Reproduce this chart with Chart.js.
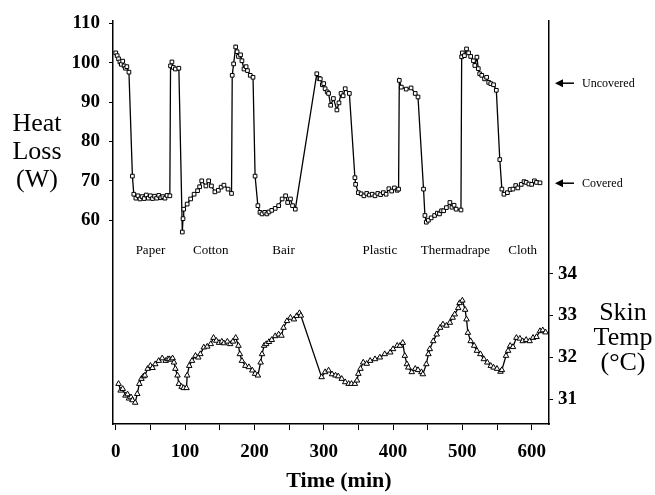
<!DOCTYPE html>
<html lang="en">
<head>
    <meta charset="UTF-8">
    <title>Heat Loss and Skin Temperature</title>
    <script src="https://cdn.jsdelivr.net/npm/chart.js"></script>
    <style>
        body { margin: 0; background: #fff; }
        #wrap { width: 655px; height: 495px; }
    </style>
</head>
<body>
<div id="wrap"><canvas id="chart" width="655" height="495"></canvas></div>
<script>
// heat loss (W), squares
const hlTime = [0, 2, 4, 6, 8, 10, 12, 14, 16, 19, 24, 26, 29, 32, 35, 38, 41, 44, 47, 50, 53, 56, 59, 62, 65, 68, 71, 74, 78,
    79, 81, 83, 86, 91,
    96, 97, 98, 103, 108, 113, 118, 121, 124, 130, 134, 138, 143, 148, 152, 156, 162, 167,
    168, 170, 173, 175, 177, 180, 182, 185, 188, 190, 194, 198, 201, 205,
    208, 211, 215, 218, 221, 225, 230, 235, 240, 245, 248, 252, 255, 259,
    290, 293, 295, 298, 300, 302, 305, 307, 310, 314, 319, 322, 325, 328, 331, 337, 345, 346, 350,
    354, 358, 362, 366, 370, 374, 378, 382, 386, 390, 394, 398, 402, 406, 408,
    409, 412, 419, 426, 432, 436, 444, 446,
    448, 451, 455, 460, 464, 467, 470, 473, 477, 482, 485, 488, 491, 498,
    499, 500, 503, 506, 509, 512, 516, 518, 521, 523, 525, 528, 532, 535, 538, 541, 545, 549, 554, 557, 560,
    565, 569, 573, 577, 580, 585, 589, 592, 596, 600, 604, 607, 612];
const hlValue = [102.5, 101.8, 101, 100.2, 99.6, 100.4, 99.2, 98.6, 99, 97.6, 71.2, 66.6, 65.6, 66.2, 65.4, 66, 65.5, 66.4, 65.6, 66.2, 65.5, 66.1, 65.6, 66.3, 65.7, 66, 65.6, 66.3, 66.2,
    99.2, 100.2, 98.8, 98.4, 98.6,
    57, 60.4, 62.8, 64.1, 65.4, 66.6, 67.5, 68.5, 70, 68.7, 70, 68.7, 67.2, 67.6, 68.4, 68.9, 67.9, 66.8,
    96.8, 99.7, 104, 102.8, 101.6, 102, 100.5, 98.4, 99, 98, 96.8, 96.3, 71.2, 63.7,
    62, 61.6, 62, 61.6, 62.1, 62.5, 63, 63.7, 65.4, 66.2, 64.5, 65.4, 63.7, 62.8,
    97.2, 96, 95.9, 94.4, 94.7, 93.4, 92.6, 92.2, 89.2, 90.9, 88, 89.8, 92.2, 91.6, 93.4, 92.2, 70.8, 69.1, 67,
    66.7, 66.2, 66.8, 66.4, 66.6, 66.2, 66.8, 66.5, 67, 66.6, 68, 67.4, 68.2, 67.6, 67.9,
    95.5, 93.8, 93.3, 93.6, 92.2, 91.3, 67.9, 61.2,
    59.5, 60, 60.6, 61.2, 61.8, 61.6, 62.4, 62.4, 63.2, 64.5, 63.3, 63.8, 62.8, 62.6,
    101.5, 102.5, 101.8, 103.5, 102.5, 101.6, 100.5, 99.3, 101.4, 98.5, 97.2, 96.8, 95.9, 96.3, 95, 94.7, 94.4, 93, 75.4, 67.9, 66.6,
    67, 67.8, 67.9, 68.8, 68.2, 69.1, 69.8, 69.6, 69.2, 69.1, 70, 69.6, 69.5];

// skin temperature (°C), triangles
const stTime = [4, 7, 10, 14, 17, 19, 22, 24, 28, 31, 34, 37, 40, 42, 46, 50, 53, 57, 62, 67, 72, 75, 77, 80, 82, 84, 86, 89, 91, 95, 98, 102,
    103, 106, 110, 115, 119, 122, 127, 132, 137, 141, 145, 149, 153, 156, 161, 165, 169, 173, 177, 179, 182, 187, 192, 197, 201, 205,
    209, 211, 214, 217, 221, 225, 230, 235, 239, 242, 247, 252, 257, 261, 265, 267,
    297, 302, 307, 312, 317, 321, 326, 331, 336, 340, 345, 348, 350, 353, 357, 362, 367, 374, 381, 388, 396, 400, 406, 410, 414,
    417, 420, 422, 427, 432, 436, 441, 443, 448, 451, 453, 458, 463, 468, 472, 477, 482, 486, 489, 494, 496, 500,
    504, 506, 508, 512, 517, 521, 526, 531, 536, 541, 545, 550, 555, 557, 563, 566, 569, 573,
    578, 583, 587, 592, 597, 602, 607, 612, 616, 620];
const stValue = [31.37, 31.21, 31.25, 31.09, 31.12, 31.02, 31.05, 30.98, 30.92, 31.13, 31.37, 31.49, 31.55, 31.57, 31.73, 31.8, 31.75, 31.84, 31.92, 31.98, 31.92, 31.96, 31.96, 31.95, 31.98, 31.88, 31.73, 31.57, 31.37, 31.3, 31.27, 31.27,
    31.57, 31.8, 31.92, 32.04, 32.0, 32.08, 32.24, 32.26, 32.32, 32.47, 32.4, 32.35, 32.38, 32.34, 32.38, 32.32, 32.38, 32.47, 32.28, 32.08, 31.92, 31.8, 31.77, 31.69, 31.61, 31.57,
    31.88, 32.08, 32.28, 32.32, 32.37, 32.42, 32.51, 32.55, 32.52, 32.71, 32.87, 32.95, 32.91, 32.99, 33.06, 33.0,
    31.53, 31.65, 31.69, 31.6, 31.57, 31.55, 31.49, 31.41, 31.37, 31.37, 31.37, 31.45, 31.61, 31.73, 31.88, 31.85, 31.92, 31.96, 32.0, 32.08, 32.12, 32.2, 32.28, 32.28, 32.35,
    32.04, 31.84, 31.76, 31.65, 31.73, 31.7, 31.65, 31.6, 31.84, 32.08, 32.2, 32.39, 32.55, 32.71, 32.79, 32.76, 32.83, 32.95, 33.03, 33.18, 33.3, 33.36,
    33.14, 32.91, 32.59, 32.39, 32.28, 32.16, 32.08, 31.96, 31.88, 31.8, 31.76, 31.73, 31.66, 31.7, 32.04, 32.16, 32.28, 32.25,
    32.47, 32.45, 32.39, 32.42, 32.39, 32.47, 32.49, 32.63, 32.65, 32.6];

// cover labels (placed at time, heat loss level)
const coverNames = ['Paper', 'Cotton', 'Bair', 'Plastic', 'Thermadrape', 'Cloth'];
const coverTimes = [50, 137, 242, 381, 490, 587];
const coverLevel = 52.3;

// reference marks on the right
const markNames = ['Uncovered', 'Covered'];
const markLevels = [94.8, 69.4];

const xTicks = [0, 50, 100, 150, 200, 250, 300, 350, 400, 450, 500, 550, 600];
const hlTicks = [60, 70, 80, 90, 100, 110];
const stTicks = [31, 32, 33, 34];

const SERIF = '"Liberation Serif", "DejaVu Serif", serif';

const overlay = {
    id: 'overlay',
    afterDraw(chart) {
        const ctx = chart.ctx;
        const x = chart.scales.x, y = chart.scales.y, y1 = chart.scales.y1;
        const area = chart.chartArea;
        ctx.save();
        ctx.fillStyle = '#000';
        ctx.strokeStyle = '#000';
        ctx.textBaseline = 'middle';

        // cover names
        ctx.font = '13px ' + SERIF;
        ctx.textAlign = 'center';
        coverNames.forEach((n, i) => {
            ctx.fillText(n, x.getPixelForValue(coverTimes[i]), y.getPixelForValue(coverLevel));
        });

        // arrows + labels
        ctx.textAlign = 'left';
        ctx.font = '12px ' + SERIF;
        markNames.forEach((n, i) => {
            const py = y.getPixelForValue(markLevels[i]);
            const x0 = area.right + 6, x1 = area.right + 25;
            ctx.lineWidth = 1.5;
            ctx.beginPath();
            ctx.moveTo(x0 + 4, py);
            ctx.lineTo(x1, py);
            ctx.stroke();
            ctx.beginPath();
            ctx.moveTo(x0, py);
            ctx.lineTo(x0 + 8, py - 4);
            ctx.lineTo(x0 + 8, py + 4);
            ctx.closePath();
            ctx.fill();
            ctx.fillText(n, area.right + 33, py + 1);
        });

        // left title
        ctx.textAlign = 'center';
        ctx.font = '26px ' + SERIF;
        const ly = y.getPixelForValue(77.3);
        ['Heat', 'Loss', '(W)'].forEach((s, i) => ctx.fillText(s, 37, ly + (i - 1) * 28));

        // right title
        const ry = y1.getPixelForValue(32.47);
        ['Skin', 'Temp', '(°C)'].forEach((s, i) => ctx.fillText(s, area.right + 74, ry + (i - 1) * 25));

        // bottom title
        ctx.font = 'bold 22px ' + SERIF;
        ctx.fillText('Time (min)', x.getPixelForValue(322), area.bottom + 57);
        ctx.restore();
    }
};

const tickFont = { family: SERIF, size: 19, weight: 'bold' };

new Chart(document.getElementById('chart').getContext('2d'), {
    type: 'line',
    data: {
        datasets: [
            {
                label: 'Heat Loss',
                data: hlTime.map((t, i) => ({ x: t, y: hlValue[i] })),
                yAxisID: 'y',
                borderColor: '#000',
                borderWidth: 1.3,
                pointStyle: 'rect',
                pointRadius: 2.6,
                pointBackgroundColor: '#fff',
                pointBorderColor: '#000',
                pointBorderWidth: 1,
                tension: 0
            },
            {
                label: 'Skin Temp',
                data: stTime.map((t, i) => ({ x: t, y: stValue[i] })),
                yAxisID: 'y1',
                borderColor: '#000',
                borderWidth: 1.3,
                pointStyle: 'triangle',
                pointRadius: 3.2,
                pointBackgroundColor: '#fff',
                pointBorderColor: '#000',
                pointBorderWidth: 1,
                tension: 0
            }
        ]
    },
    options: {
        responsive: false,
        animation: false,
        layout: { padding: { top: 16, left: 0, right: 0, bottom: 0 } },
        plugins: { legend: { display: false }, tooltip: { enabled: false } },
        scales: {
            x: {
                type: 'linear',
                min: -4,
                max: 625,
                afterBuildTicks: s => { s.ticks = xTicks.map(v => ({ value: v })); },
                afterFit: s => { s.height = 71; },
                ticks: {
                    color: '#000',
                    font: tickFont,
                    padding: 11,
                    maxRotation: 0,
                    autoSkip: false,
                    callback: v => (v % 100 === 0 ? v : '')
                },
                grid: { drawOnChartArea: false, drawTicks: true, tickLength: 6, color: '#000' },
                border: { display: true, color: '#000', width: 1.5 }
            },
            y: {
                position: 'left',
                min: 8.24,
                max: 110.75,
                afterBuildTicks: s => { s.ticks = hlTicks.map(v => ({ value: v })); },
                afterFit: s => { s.width = 113; },
                ticks: { color: '#000', font: tickFont, padding: 9 },
                grid: { drawOnChartArea: false, drawTicks: true, tickLength: 4, color: '#000' },
                border: { display: true, color: '#000', width: 1.5 }
            },
            y1: {
                position: 'right',
                min: 30.41,
                max: 40.05,
                afterBuildTicks: s => { s.ticks = stTicks.map(v => ({ value: v })); },
                afterFit: s => { s.width = 106; },
                ticks: { color: '#000', font: tickFont, padding: 5 },
                grid: { drawOnChartArea: false, drawTicks: true, tickLength: 4, color: '#000' },
                border: { display: true, color: '#000', width: 1.5 }
            }
        }
    },
    plugins: [overlay]
});
</script>
</body>
</html>
